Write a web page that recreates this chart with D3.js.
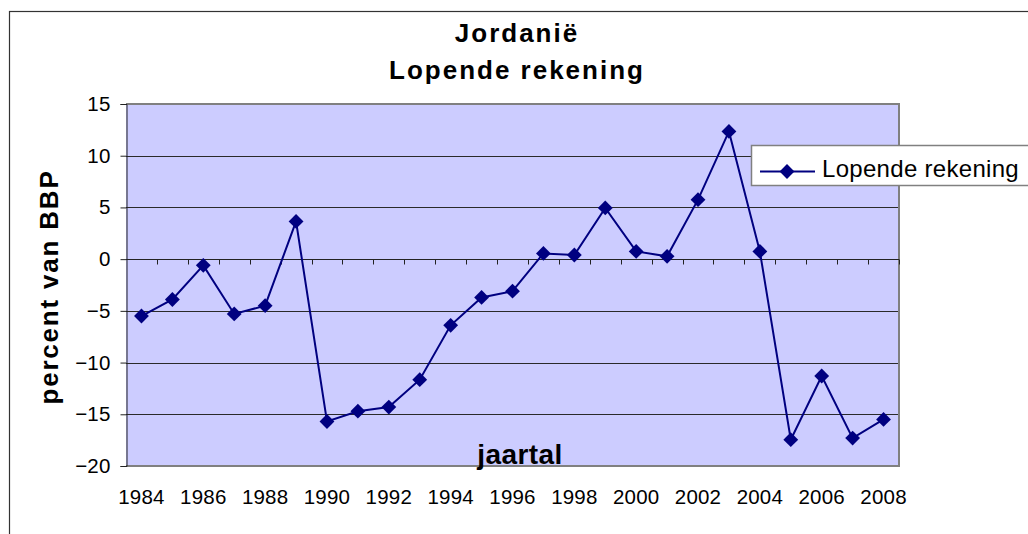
<!DOCTYPE html>
<html>
<head>
<meta charset="utf-8">
<script src="https://cdn.jsdelivr.net/npm/d3@7"></script>
<style>
  html, body { margin: 0; padding: 0; background: #fff; }
  svg { display: block; font-family: "Liberation Sans", Arial, sans-serif; }
</style>
</head>
<body>
<div id="chart"></div>
<script>
// chart data
const years = d3.range(1984, 2009);
const values = [-5.5, -3.9, -0.6, -5.3, -4.5, 3.65, -15.7, -14.7, -14.3, -11.65,
                -6.4, -3.7, -3.1, 0.55, 0.4, 4.95, 0.75, 0.27, 5.75, 12.35,
                0.75, -17.45, -11.3, -17.3, -15.5];
const yTicks = [-20, -15, -10, -5, 0, 5, 10, 15];
const xLabels = years.filter(y => y % 2 === 0);
const seriesName = "Lopende rekening";

(function(){
    const W = 1028, H = 534;
    const plot = { left: 126, right: 899, top: 104, bottom: 466 };

    const svg = d3.select("#chart").append("svg")
        .attr("width", W)
        .attr("height", H);

    // outer frame (runs off the right and bottom edge)
    svg.append("rect")
        .attr("x", 9.5).attr("y", 11.5)
        .attr("width", 1040).attr("height", 560)
        .attr("fill", "#fff")
        .attr("stroke", "#333").attr("stroke-width", 1.2);

    const x = d3.scaleBand()
        .domain(years)
        .range([plot.left, plot.right]);

    const y = d3.scaleLinear()
        .domain([-20, 15])
        .range([plot.bottom, plot.top]);

    // plot background
    svg.append("rect")
        .attr("x", plot.left).attr("y", plot.top)
        .attr("width", plot.right - plot.left)
        .attr("height", plot.bottom - plot.top)
        .attr("fill", "#ccccff");

    // gridlines
    svg.append("g")
        .selectAll("line")
        .data(yTicks.filter(d => d !== 15 && d !== -20 && d !== 0))
        .join("line")
        .attr("x1", plot.left).attr("x2", plot.right)
        .attr("y1", d => Math.round(y(d)) + 0.5)
        .attr("y2", d => Math.round(y(d)) + 0.5)
        .attr("stroke", "#2a2a2a").attr("stroke-width", 1);

    // plot border (grey) top, right, bottom
    svg.append("path")
        .attr("d", `M${plot.left},${plot.top}H${plot.right}V${plot.bottom}H${plot.left}`)
        .attr("fill", "none")
        .attr("stroke", "#808080").attr("stroke-width", 2);

    // y axis
    const yAxis = svg.append("g")
        .attr("transform", `translate(${plot.left + 0.5},0)`)
        .call(d3.axisLeft(y).tickValues(yTicks).tickSize(6).tickPadding(10));
    yAxis.select(".domain").attr("stroke", "#222");
    yAxis.selectAll(".tick line").attr("stroke", "#222");
    yAxis.selectAll("text")
        .attr("font-size", 20.5)
        .attr("letter-spacing", 0.2)
        .attr("fill", "#000");

    // x axis line at zero, with ticks between categories
    const zeroY = Math.round(y(0)) + 0.5;
    svg.append("line")
        .attr("x1", plot.left).attr("x2", plot.right)
        .attr("y1", zeroY).attr("y2", zeroY)
        .attr("stroke", "#222").attr("stroke-width", 1);

    const boundaries = years.map(d => x(d)).concat([plot.right]);
    svg.append("g")
        .selectAll("line")
        .data(boundaries.slice(1))
        .join("line")
        .attr("x1", d => Math.round(d) + 0.5).attr("x2", d => Math.round(d) + 0.5)
        .attr("y1", zeroY).attr("y2", zeroY + 5)
        .attr("stroke", "#222");

    // x labels at the bottom
    svg.append("g")
        .selectAll("text")
        .data(xLabels)
        .join("text")
        .attr("x", d => x(d) + x.bandwidth() / 2)
        .attr("y", 504)
        .attr("text-anchor", "middle")
        .attr("font-size", 20.5)
        .attr("letter-spacing", 0.2)
        .text(d => d);

    // line + markers
    const pts = years.map((d, i) => [x(d) + x.bandwidth() / 2, y(values[i])]);
    svg.append("path")
        .datum(pts)
        .attr("d", d3.line())
        .attr("fill", "none")
        .attr("stroke", "#000080")
        .attr("stroke-width", 2);

    const diamond = d3.symbol().type(d3.symbolDiamond2).size(140);
    svg.append("g")
        .selectAll("path")
        .data(pts)
        .join("path")
        .attr("transform", d => `translate(${d[0]},${d[1]})`)
        .attr("d", diamond)
        .attr("fill", "#000080");

    // titles
    const titleX = 517;
    svg.append("text")
        .attr("x", titleX).attr("y", 42)
        .attr("text-anchor", "middle")
        .attr("font-size", 26).attr("font-weight", "bold")
        .attr("letter-spacing", 2)
        .text("Jordanië");
    svg.append("text")
        .attr("x", titleX).attr("y", 79)
        .attr("text-anchor", "middle")
        .attr("font-size", 26).attr("font-weight", "bold")
        .attr("letter-spacing", 2)
        .text("Lopende rekening");

    // axis titles
    svg.append("text")
        .attr("transform", "translate(58,287) rotate(-90)")
        .attr("text-anchor", "middle")
        .attr("font-size", 26).attr("font-weight", "bold")
        .attr("letter-spacing", 1.8)
        .text("percent van BBP");

    svg.append("text")
        .attr("x", 520).attr("y", 464)
        .attr("text-anchor", "middle")
        .attr("font-size", 28).attr("font-weight", "bold")
        .attr("letter-spacing", 0.4)
        .text("jaartal");

    // legend
    const lg = svg.append("g");
    lg.append("rect")
        .attr("x", 751.5).attr("y", 145.5)
        .attr("width", 300).attr("height", 40)
        .attr("fill", "#fff")
        .attr("stroke", "#808080").attr("stroke-width", 1.5);
    lg.append("line")
        .attr("x1", 760).attr("x2", 815)
        .attr("y1", 171.5).attr("y2", 171.5)
        .attr("stroke", "#000080").attr("stroke-width", 2);
    lg.append("path")
        .attr("transform", "translate(787,171.5)")
        .attr("d", diamond)
        .attr("fill", "#000080");
    lg.append("text")
        .attr("x", 822).attr("y", 176.5)
        .attr("font-size", 24)
        .attr("letter-spacing", 0.3)
        .text(seriesName);
})();
</script>
</body>
</html>
